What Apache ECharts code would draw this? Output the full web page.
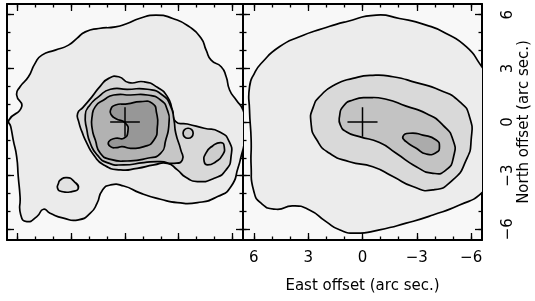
<!DOCTYPE html>
<html>
<head>
<meta charset="utf-8">
<script src="https://cdn.jsdelivr.net/npm/echarts@6/dist/echarts.min.js"></script>
<style>
html,body{margin:0;padding:0;background:#fff;}
#chart{width:535px;height:301px;}
</style>
</head>
<body>
<div id="chart"></div>
<script>
// ---- data (arc sec offsets: x = East offset, y = North offset) ----
const xTickLabels = [6, 3, 0, -3, -6];
const yTickLabels = [-6, -3, 0, 3, 6];
const majorTicks = [-6, -3, 0, 3, 6];
const minorTicks = [-6, -5, -4, -3, -2, -1, 0, 1, 2, 3, 4, 5, 6];

// left panel contours
const leftOuter = [[6.49,0.11],[5.78,0.85],[6.06,1.51],[5.87,1.97],[5.40,2.53],[5.03,3.28],[4.65,3.74],[3.90,4.02],[3.16,4.30],[2.69,4.68],[2.22,5.04],[1.47,5.23],[0.53,5.32],[-0.12,5.51],[-0.80,5.79],[-1.73,5.98],[-2.67,5.79],[-3.61,5.32],[-4.26,4.68],[-4.54,4.02],[-4.82,3.46],[-5.38,3.09],[-5.66,2.53],[-5.85,1.79],[-6.22,1.23],[-6.60,0.67],[-6.77,-0.26],[-6.67,-1.19],[-6.49,-1.94],[-6.34,-2.50],[-5.93,-3.61],[-5.18,-4.17],[-4.06,-4.51],[-2.93,-4.51],[-1.99,-4.32],[-0.87,-3.98],[0.07,-3.58],[0.81,-3.52],[1.28,-3.84],[1.56,-4.54],[1.94,-5.10],[2.60,-5.47],[3.44,-5.38],[4.19,-5.10],[4.56,-4.88],[4.93,-5.29],[5.49,-5.57],[5.83,-5.20],[5.87,-4.17],[5.97,-3.06],[6.06,-1.94],[6.25,-1.01],[6.39,-0.26]];
const leftIsland = [[3.62,-3.24],[3.25,-3.11],[2.84,-3.33],[2.61,-3.71],[2.97,-3.89],[3.53,-3.89],[3.77,-3.71],[3.72,-3.43]];
const leftC2 = [[2.65,0.48],[2.35,0.82],[1.84,1.42],[1.38,2.01],[0.91,2.44],[0.35,2.53],[-0.22,2.20],[-1.06,2.25],[-1.81,1.94],[-2.37,1.42],[-2.65,0.67],[-2.84,0.02],[-3.49,-0.11],[-4.43,-0.35],[-5.27,-0.54],[-5.83,-1.10],[-5.93,-1.94],[-5.65,-2.68],[-4.99,-3.15],[-4.05,-3.33],[-3.40,-3.09],[-2.93,-2.68],[-2.37,-2.31],[-1.62,-2.40],[-0.68,-2.59],[0.25,-2.68],[1.19,-2.40],[1.75,-1.84],[2.13,-1.19],[2.41,-0.54],[2.59,0.02]];
const leftCircle = [[-3.53,-0.35],[-3.33,-0.43],[-3.25,-0.63],[-3.33,-0.83],[-3.53,-0.91],[-3.73,-0.83],[-3.81,-0.63],[-3.73,-0.43]];
const leftEllipse = [[-5.37,-1.15],[-5.55,-1.38],[-5.46,-1.84],[-5.08,-2.22],[-4.62,-2.40],[-4.43,-2.22],[-4.52,-1.75],[-4.90,-1.34]];
const leftC3 = [[2.22,0.39],[2.03,0.86],[1.47,1.42],[0.81,1.83],[-0.12,1.83],[-1.25,1.83],[-2.09,1.51],[-2.56,0.86],[-2.74,0.11],[-2.84,-0.63],[-3.12,-1.56],[-3.21,-2.12],[-2.74,-2.31],[-1.99,-2.22],[-1.06,-2.27],[0.07,-2.40],[1.00,-2.27],[1.56,-1.84],[1.94,-1.19],[2.13,-0.45]];
const leftC4 = [[1.84,0.30],[1.66,0.86],[1.19,1.23],[0.63,1.51],[-0.31,1.51],[-1.25,1.51],[-1.99,1.23],[-2.37,0.67],[-2.46,-0.07],[-2.28,-1.01],[-1.99,-1.75],[-1.25,-2.03],[-0.12,-2.18],[0.81,-2.09],[1.38,-1.75],[1.66,-1.01],[1.84,-0.35]];
const leftC5 = [[0.81,0.67],[0.53,0.95],[-0.12,1.01],[-0.87,1.14],[-1.53,1.04],[-1.77,0.48],[-1.81,-0.26],[-1.62,-1.01],[-1.06,-1.38],[-0.31,-1.47],[0.16,-1.38],[0.44,-1.43],[0.81,-1.38],[0.91,-1.10],[0.53,-0.91],[0.07,-0.91],[-0.16,-0.54],[-0.03,-0.07],[0.53,0.20],[0.76,0.39]];

// right panel contours
const rightOuter = [[6.24,1.97],[5.97,2.72],[5.51,3.37],[4.59,4.21],[3.48,4.77],[2.19,5.23],[0.90,5.61],[-0.76,5.98],[-2.04,5.79],[-3.52,5.42],[-4.62,4.95],[-5.73,4.21],[-6.46,3.28],[-7.2,1.97],[-7.57,-0.63],[-7.2,-3.05],[-6.56,-3.99],[-5.36,-4.64],[-3.89,-5.20],[-2.41,-5.66],[-0.94,-6.03],[0.35,-6.22],[1.27,-6.03],[2.01,-5.57],[2.93,-4.92],[3.85,-4.69],[4.77,-4.88],[5.60,-4.54],[6.02,-3.80],[6.15,-2.50],[6.15,-1.01],[6.24,0.67]];
const rightC2 = [[2.84,-0.07],[2.71,0.86],[2.28,1.51],[1.55,2.07],[0.53,2.44],[-0.57,2.61],[-1.68,2.53],[-2.97,2.20],[-4.25,1.79],[-5.36,1.14],[-5.91,0.30],[-6.00,-1.01],[-5.73,-2.12],[-4.99,-3.24],[-3.89,-3.80],[-2.78,-3.61],[-1.68,-3.05],[-0.57,-2.50],[0.72,-2.22],[1.82,-1.75],[2.52,-1.01]];
const rightC3 = [[1.27,0.30],[1.05,0.89],[0.53,1.23],[-0.29,1.36],[-1.31,1.27],[-2.41,0.89],[-3.52,0.48],[-4.44,-0.17],[-5.00,-1.01],[-5.03,-1.94],[-4.62,-2.68],[-3.89,-2.87],[-2.97,-2.50],[-1.86,-1.75],[-0.94,-1.15],[0.17,-0.82],[0.90,-0.54],[1.22,-0.17]];
const rightC4 = [[-2.23,-0.82],[-2.60,-0.63],[-3.33,-0.73],[-4.07,-1.01],[-4.25,-1.38],[-4.07,-1.71],[-3.52,-1.79],[-2.97,-1.47],[-2.41,-1.10]];

// reference position cross
const crossArmH = [[0.83, 0], [-0.83, 0]];
const crossArmV = [[0, 0.83], [0, -0.83]];

// ---- chart ----
const FONT = 'DejaVu Sans';
const AX_MIN = -6.6, AX_MAX = 6.6;
const fmt = v => (v < 0 ? '\u2212' + Math.abs(v) : String(v));

function axisSet(dim, g, position, major, opts) {
  const labelsOn = !!(opts && opts.labels);
  const a = {
    type: 'value', gridIndex: g, position: position,
    min: AX_MIN, max: AX_MAX,
    inverse: dim === 'x',
    axisLine: { show: major, onZero: false, lineStyle: { color: '#000', width: 2 } },
    axisTick: { show: true, inside: true, length: major ? 7 : 3.5,
      customValues: major ? majorTicks : minorTicks,
      lineStyle: { color: '#000', width: 1.3 } },
    axisLabel: { show: false },
    splitLine: { show: false },
    minorTick: { show: false }
  };
  if (labelsOn && major) {
    a.axisLabel = {
      show: true, customValues: dim === 'x' ? xTickLabels : yTickLabels,
      formatter: fmt, color: '#000', fontFamily: FONT, fontSize: 15,
      margin: opts.margin, rotate: opts.rotate || 0
    };
    a.name = opts.name;
    a.nameLocation = 'middle';
    a.nameGap = opts.nameGap;
    if (opts.nameRotate !== undefined) a.nameRotate = opts.nameRotate;
    a.nameTextStyle = { color: '#000', fontFamily: FONT, fontSize: 15 };
  }
  return a;
}

const xAxes = [], yAxes = [];
function buildGridAxes(g, labelled) {
  const xi = xAxes.length, yi = yAxes.length;
  xAxes.push(axisSet('x', g, 'bottom', true, labelled ? { labels: true, margin: 11, name: 'East offset (arc sec.)', nameGap: 39 } : null));
  xAxes.push(axisSet('x', g, 'bottom', false));
  xAxes.push(axisSet('x', g, 'top', true));
  xAxes.push(axisSet('x', g, 'top', false));
  yAxes.push(axisSet('y', g, 'right', true, labelled ? { labels: true, margin: 19, rotate: 90, name: 'North offset (arc sec.)', nameGap: 35, nameRotate: 90 } : null));
  yAxes.push(axisSet('y', g, 'right', false));
  yAxes.push(axisSet('y', g, 'left', true));
  yAxes.push(axisSet('y', g, 'left', false));
  return { xi, yi };
}
const L = buildGridAxes(0, false);
const R = buildGridAxes(1, true);

function contourSeries(points, fill, idx) {
  return {
    type: 'custom', xAxisIndex: idx.xi, yAxisIndex: idx.yi,
    data: points, silent: true, animation: false,
    renderItem: function (params, api) {
      if (params.dataIndex !== 0) return null;
      const pts = points.map(p => api.coord(p));
      const cs = params.coordSys;
      return {
        type: 'polygon',
        shape: { points: pts, smooth: 0.6 },
        style: { fill: fill, stroke: '#000', lineWidth: 1.7 },
        clipPath: { type: 'rect', shape: { x: cs.x, y: cs.y, width: cs.width, height: cs.height } }
      };
    }
  };
}
function crossSeries(arm, idx) {
  return {
    type: 'line', xAxisIndex: idx.xi, yAxisIndex: idx.yi, data: arm,
    symbol: 'none', silent: true, animation: false,
    lineStyle: { color: '#000', width: 1.5 }
  };
}

const series = [
  contourSeries(leftOuter, '#ebebeb', L),
  contourSeries(leftIsland, '#e2e2e2', L),
  contourSeries(leftC2, '#d8d8d8', L),
  contourSeries(leftCircle, '#cdcdcd', L),
  contourSeries(leftEllipse, '#cdcdcd', L),
  contourSeries(leftC3, '#c6c6c6', L),
  contourSeries(leftC4, '#b2b2b2', L),
  contourSeries(leftC5, '#979797', L),
  crossSeries(crossArmH, L), crossSeries(crossArmV, L),
  contourSeries(rightOuter, '#ececec', R),
  contourSeries(rightC2, '#d9d9d9', R),
  contourSeries(rightC3, '#c3c3c3', R),
  contourSeries(rightC4, '#ababab', R),
  crossSeries(crossArmH, R), crossSeries(crossArmV, R)
];

const chart = echarts.init(document.getElementById('chart'), null, { renderer: 'canvas' });
chart.setOption({
  animation: false,
  backgroundColor: '#fff',
  grid: [
    { left: 7, top: 4, width: 236, height: 236, show: true, backgroundColor: '#f8f8f8', borderWidth: 0 },
    { left: 243, top: 4, width: 239, height: 236, show: true, backgroundColor: '#f8f8f8', borderWidth: 0 }
  ],
  xAxis: xAxes,
  yAxis: yAxes,
  series: series
});
</script>
</body>
</html>
